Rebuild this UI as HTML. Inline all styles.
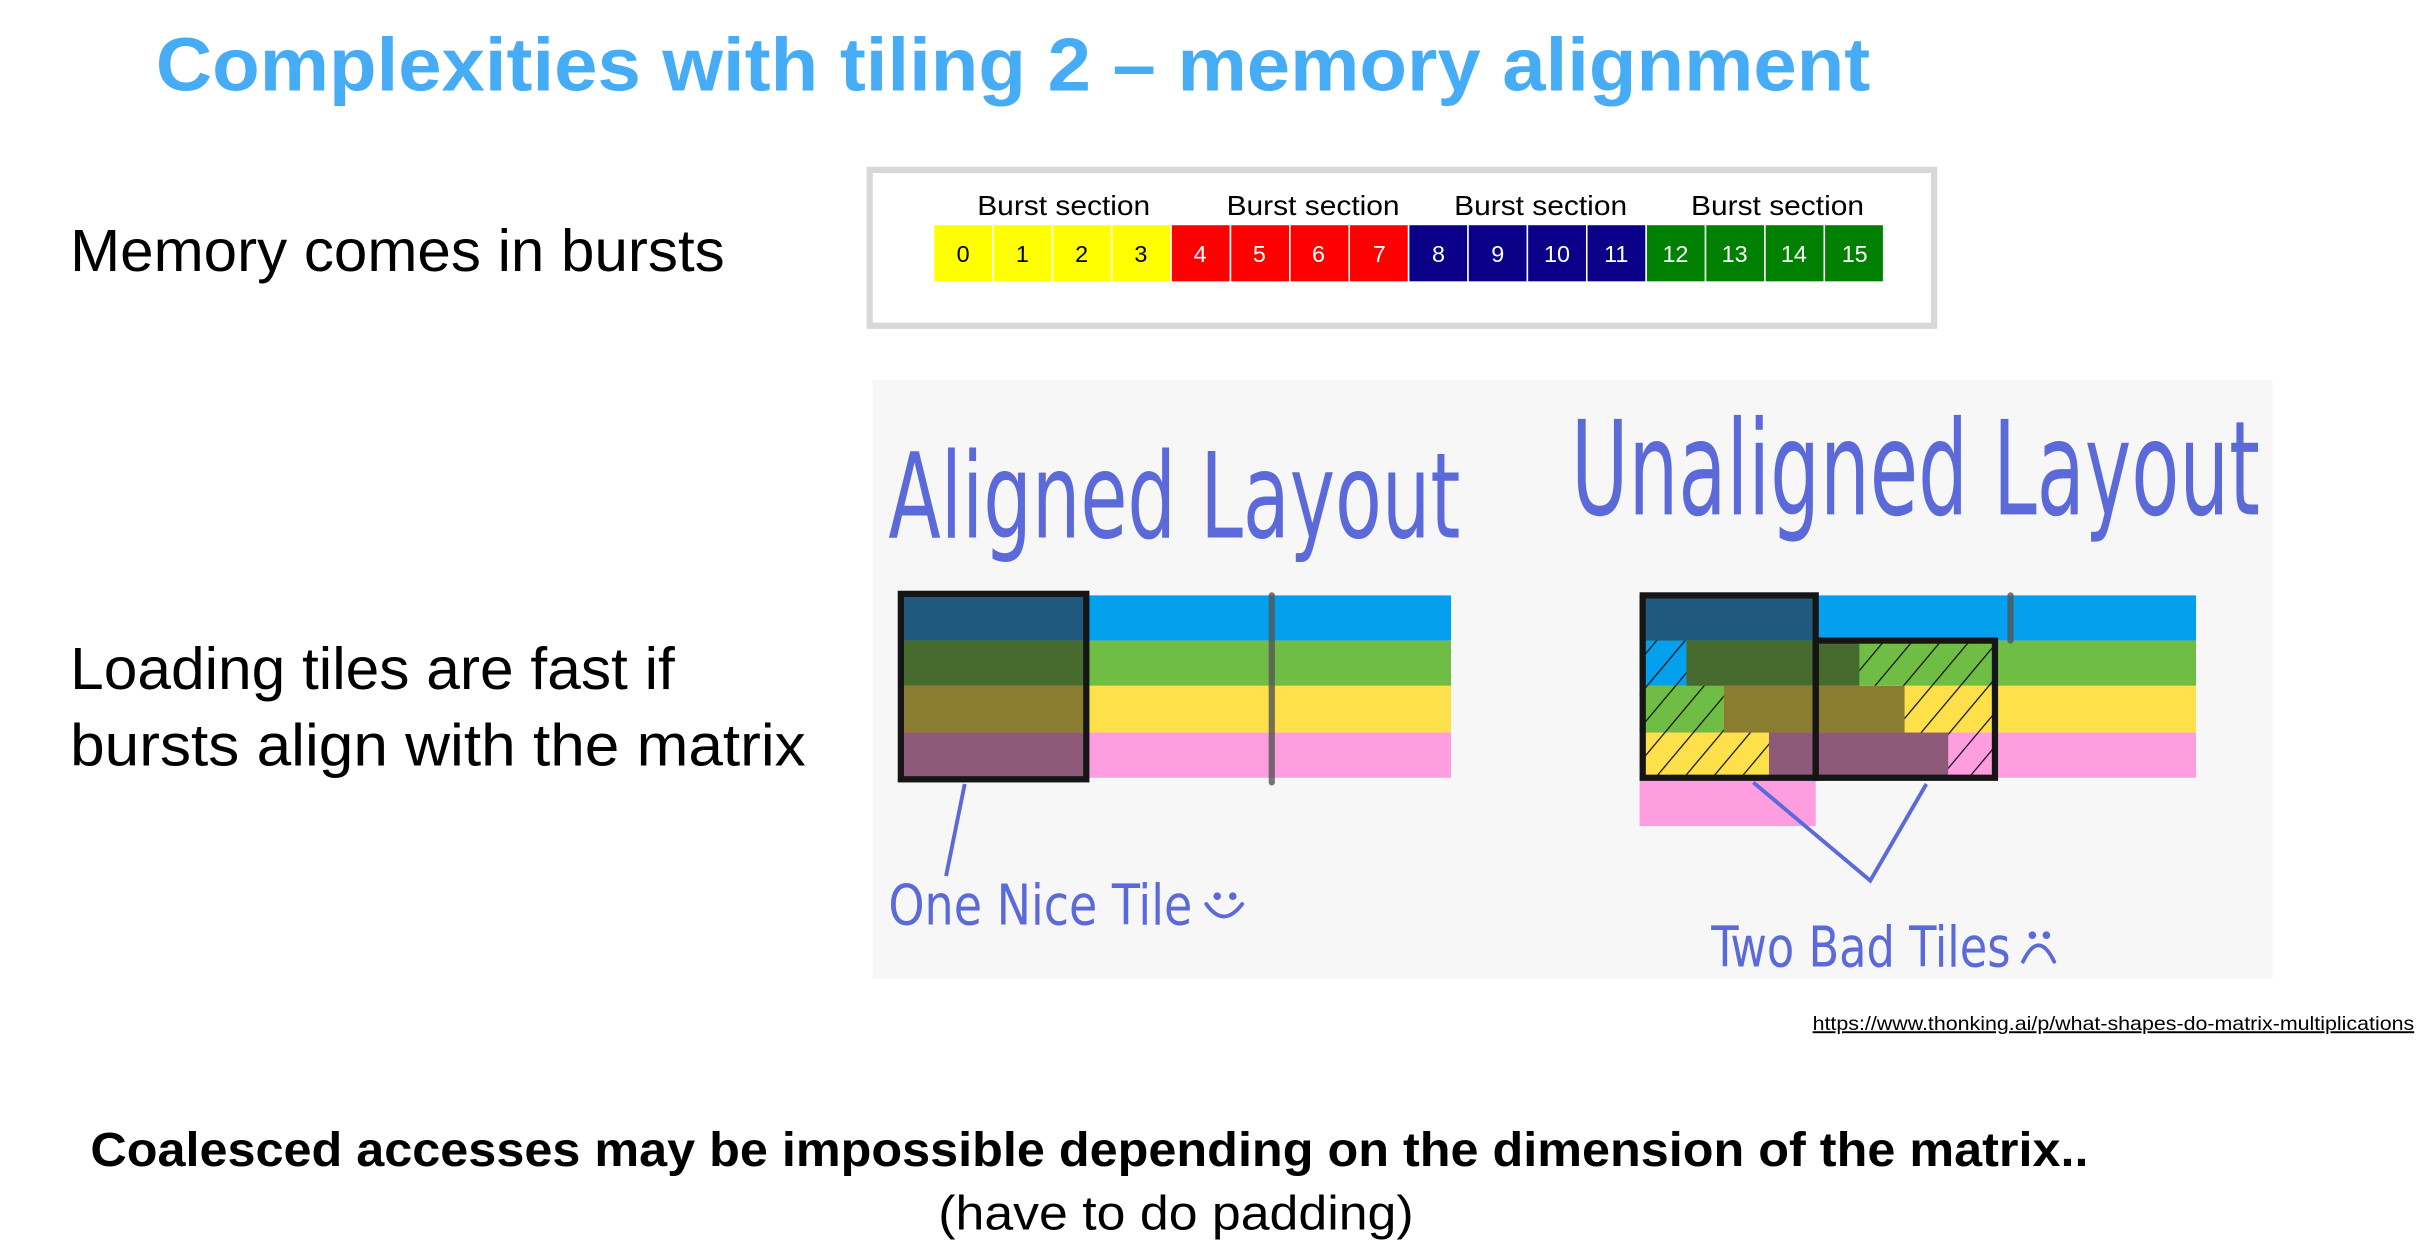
<!DOCTYPE html>
<html><head><meta charset="utf-8"><style>
html,body{margin:0;padding:0;background:#fff;width:2422px;height:1260px;overflow:hidden}
svg{display:block}
</style></head><body>
<svg width="2422" height="1260" viewBox="0 0 1554 808.4" preserveAspectRatio="none" xmlns="http://www.w3.org/2000/svg">
<defs>
<pattern id="h" patternUnits="userSpaceOnUse" width="14" height="14" patternTransform="rotate(40)">
<line x1="0" y1="0" x2="0" y2="14" stroke="#111" stroke-width="1.6"/>
</pattern>
</defs>
<rect width="1554" height="808.4" fill="#fff"/>
<text x="100" y="58" font-family="Liberation Sans, sans-serif" font-weight="bold" font-size="48" fill="#45acf5" textLength="1100" lengthAdjust="spacingAndGlyphs">Complexities with tiling 2 – memory alignment</text>
<text x="45" y="174" font-family="Liberation Sans, sans-serif" font-size="38" fill="#000" textLength="420" lengthAdjust="spacingAndGlyphs">Memory comes in bursts</text>
<text x="45" y="442" font-family="Liberation Sans, sans-serif" font-size="38" fill="#000" textLength="388" lengthAdjust="spacingAndGlyphs">Loading tiles are fast if</text>
<text x="45" y="491" font-family="Liberation Sans, sans-serif" font-size="38" fill="#000" textLength="472" lengthAdjust="spacingAndGlyphs">bursts align with the matrix</text>

<rect x="558" y="109" width="683" height="100" fill="#fff" stroke="#d8d8d8" stroke-width="4"/>
<g font-family="Liberation Sans, sans-serif" font-size="18" fill="#000">
<text x="627" y="138" textLength="111" lengthAdjust="spacingAndGlyphs">Burst section</text>
<text x="787" y="138" textLength="111" lengthAdjust="spacingAndGlyphs">Burst section</text>
<text x="933" y="138" textLength="111" lengthAdjust="spacingAndGlyphs">Burst section</text>
<text x="1085" y="138" textLength="111" lengthAdjust="spacingAndGlyphs">Burst section</text>
</g>
<g stroke="#fff" stroke-width="1">
<rect x="599" y="144" width="38.1" height="37" fill="#ffff00"/><rect x="637.1" y="144" width="38.1" height="37" fill="#ffff00"/><rect x="675.2" y="144" width="38.1" height="37" fill="#ffff00"/><rect x="713.3" y="144" width="38.1" height="37" fill="#ffff00"/>
<rect x="751.4" y="144" width="38.1" height="37" fill="#ff0000"/><rect x="789.5" y="144" width="38.1" height="37" fill="#ff0000"/><rect x="827.6" y="144" width="38.1" height="37" fill="#ff0000"/><rect x="865.7" y="144" width="38.1" height="37" fill="#ff0000"/>
<rect x="903.8" y="144" width="38.1" height="37" fill="#0a0087"/><rect x="941.9" y="144" width="38.1" height="37" fill="#0a0087"/><rect x="980" y="144" width="38.1" height="37" fill="#0a0087"/><rect x="1018.1" y="144" width="38.1" height="37" fill="#0a0087"/>
<rect x="1056.2" y="144" width="38.1" height="37" fill="#008000"/><rect x="1094.3" y="144" width="38.1" height="37" fill="#008000"/><rect x="1132.4" y="144" width="38.1" height="37" fill="#008000"/><rect x="1170.5" y="144" width="38.1" height="37" fill="#008000"/>
</g>
<g font-family="Liberation Sans, sans-serif" font-size="15" text-anchor="middle">
<text x="618" y="168" fill="#000">0</text><text x="656" y="168" fill="#000">1</text><text x="694" y="168" fill="#000">2</text><text x="732" y="168" fill="#000">3</text>
<text x="770" y="168" fill="#fff">4</text><text x="808" y="168" fill="#fff">5</text><text x="846" y="168" fill="#fff">6</text><text x="885" y="168" fill="#fff">7</text>
<text x="923" y="168" fill="#fff">8</text><text x="961" y="168" fill="#fff">9</text><text x="999" y="168" fill="#fff">10</text><text x="1037" y="168" fill="#fff">11</text>
<text x="1075" y="168" fill="#fff">12</text><text x="1113" y="168" fill="#fff">13</text><text x="1151" y="168" fill="#fff">14</text><text x="1190" y="168" fill="#fff">15</text>
</g>

<rect x="560" y="244" width="898" height="384" fill="#f7f7f7"/>
<g font-family="DejaVu Sans Condensed, DejaVu Sans, sans-serif" fill="#5b6ad8">
<text x="570" y="345" font-size="76" textLength="367" lengthAdjust="spacingAndGlyphs">Aligned Layout</text>
<text x="1008" y="330" font-size="84" textLength="442" lengthAdjust="spacingAndGlyphs">Unaligned Layout</text>
<text x="570" y="593" font-size="36" textLength="195" lengthAdjust="spacingAndGlyphs">One Nice Tile</text>
<text x="1098" y="620" font-size="36" textLength="192" lengthAdjust="spacingAndGlyphs">Two Bad Tiles</text>
</g>
<g fill="none" stroke="#5b6ad8" stroke-width="2.5" stroke-linecap="round">
<path d="M774 580 Q785 596 797 580"/>
<circle cx="781" cy="575" r="1.2" fill="#5b6ad8"/><circle cx="791" cy="575" r="1.2" fill="#5b6ad8"/>
<path d="M1298 617 Q1308 596 1318 617"/>
<circle cx="1304" cy="600" r="1.2" fill="#5b6ad8"/><circle cx="1313" cy="600" r="1.2" fill="#5b6ad8"/>
</g>

<rect x="577" y="382" width="354" height="29" fill="#03a0ed"/>
<rect x="577" y="411" width="354" height="29" fill="#6fbd45"/>
<rect x="577" y="440" width="354" height="30" fill="#fde04a"/>
<rect x="577" y="470" width="354" height="29" fill="#fe9de0"/>
<rect x="577" y="382" width="120" height="29" fill="#1f5a7e"/>
<rect x="577" y="411" width="120" height="29" fill="#476b2f"/>
<rect x="577" y="440" width="120" height="30" fill="#8a7c31"/>
<rect x="577" y="470" width="120" height="29" fill="#8e5a7a"/>
<rect x="578" y="381" width="119" height="119" fill="none" stroke="#151515" stroke-width="4"/>
<line x1="816" y1="382" x2="816" y2="502" stroke="#555" stroke-width="4" stroke-linecap="round" opacity="0.8"/>
<line x1="619" y1="503" x2="607" y2="562" stroke="#5b6ad8" stroke-width="2.5"/>

<rect x="1052" y="382" width="357" height="29" fill="#03a0ed"/>
<rect x="1052" y="411" width="357" height="29" fill="#6fbd45"/>
<rect x="1052" y="440" width="357" height="30" fill="#fde04a"/>
<rect x="1052" y="470" width="357" height="29" fill="#fe9de0"/>
<rect x="1052" y="499" width="113" height="31" fill="#fe9de0"/>
<rect x="1052" y="411" width="30" height="29" fill="#03a0ed"/>
<rect x="1052" y="440" width="54" height="30" fill="#6fbd45"/>
<rect x="1052" y="470" width="83" height="29" fill="#fde04a"/>
<rect x="1052" y="382" width="113" height="29" fill="#1f5a7e"/>
<rect x="1082" y="411" width="111" height="29" fill="#476b2f"/>
<rect x="1106" y="440" width="116" height="30" fill="#8a7c31"/>
<rect x="1135" y="470" width="115" height="29" fill="#8e5a7a"/>
<rect x="1052" y="411" width="30" height="29" fill="url(#h)"/>
<rect x="1052" y="440" width="54" height="30" fill="url(#h)"/>
<rect x="1052" y="470" width="83" height="29" fill="url(#h)"/>
<rect x="1193" y="411" width="87" height="29" fill="url(#h)"/>
<rect x="1222" y="440" width="58" height="30" fill="url(#h)"/>
<rect x="1250" y="470" width="30" height="29" fill="url(#h)"/>
<line x1="1290" y1="382" x2="1290" y2="411" stroke="#555" stroke-width="4" stroke-linecap="round" opacity="0.8"/>
<rect x="1054" y="382" width="111" height="117" fill="none" stroke="#151515" stroke-width="4"/>
<rect x="1165" y="411" width="115" height="88" fill="none" stroke="#151515" stroke-width="4"/>
<polyline points="1125,502 1200,565 1236,503" fill="none" stroke="#5b6ad8" stroke-width="2.5"/>

<text x="1163" y="661" font-family="Liberation Sans, sans-serif" font-size="12.5" fill="#000" text-decoration="underline" textLength="386" lengthAdjust="spacingAndGlyphs">https://www.thonking.ai/p/what-shapes-do-matrix-multiplications</text>
<text x="58" y="748" font-family="Liberation Sans, sans-serif" font-weight="bold" font-size="31" fill="#000" textLength="1282" lengthAdjust="spacingAndGlyphs">Coalesced accesses may be impossible depending on the dimension of the matrix..</text>
<text x="602" y="789" font-family="Liberation Sans, sans-serif" font-size="31" fill="#000" textLength="305" lengthAdjust="spacingAndGlyphs">(have to do padding)</text>
</svg>
</body></html>
